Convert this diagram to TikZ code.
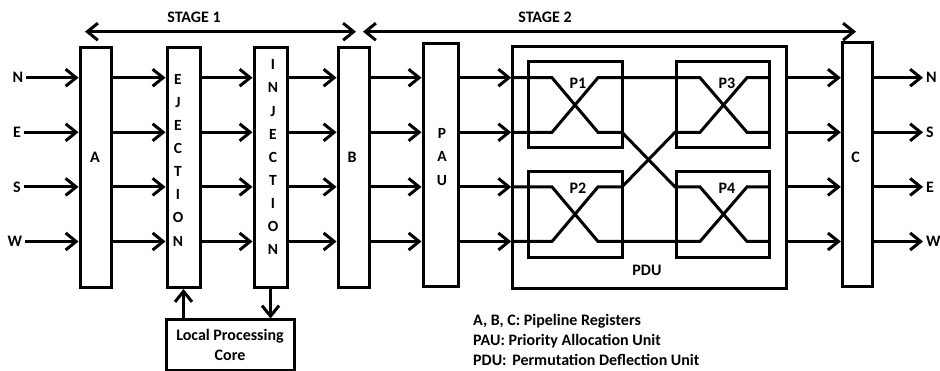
\documentclass[tikz,border=0pt]{standalone}
\usepackage{fontspec}
\setmainfont{Carlito}
\usetikzlibrary{arrows.meta}
\begin{document}
\begin{tikzpicture}[x=1pt,y=-1pt,
  every node/.style={font=\bfseries\fontsize{16}{19}\selectfont, inner sep=0pt},
  box/.style={draw, line width=3pt, inner sep=0pt},
  stack/.style={align=center, font=\bfseries\fontsize{15.5}{23.1}\selectfont},
  wire/.style={line width=3pt},
  arr/.style={line width=3pt, -{Straight Barb[length=10.5pt,width=17pt]}},
  darr/.style={line width=3pt, {Straight Barb[length=10.5pt,width=17pt]}-{Straight Barb[length=10.5pt,width=17pt]}},
]
\useasboundingbox (0,0) rectangle (940,371);

% row coordinates
\coordinate (rN) at (0,77.7);
\coordinate (rE) at (0,132.3);
\coordinate (rS) at (0,186.9);
\coordinate (rW) at (0,241.5);

% boxes
\node[box, minimum width=31pt, minimum height=239.5pt] (A) at (95.5,167.75) {};
\node[box, minimum width=33pt, minimum height=239.5pt] (EJ) at (183.5,167.75) {};
\node[box, minimum width=33pt, minimum height=239.5pt] (IN) at (270.5,167.75) {};
\node[box, minimum width=31pt, minimum height=239.5pt] (B) at (353.5,167.75) {};
\node[box, minimum width=35pt, minimum height=243.5pt] (PAU) at (440.5,165) {};
\node[box, minimum width=30pt, minimum height=244pt] (C) at (857.3,164.5) {};
\node[box, minimum width=273.3pt, minimum height=242pt] (PDU) at (649.4,167.2) {};
\node[box, minimum width=94pt, minimum height=86pt] (P1) at (575,105) {};
\node[box, minimum width=93pt, minimum height=86pt] (P3) at (722.5,105) {};
\node[box, minimum width=94pt, minimum height=86pt] (P2) at (575,215) {};
\node[box, minimum width=93pt, minimum height=86pt] (P4) at (722.5,215) {};
\node[box, minimum width=128pt, minimum height=50pt, align=center,
      font=\bfseries\fontsize{16}{20}\selectfont] (core) at (230,345) {Local Processing\\Core};

% box labels
\node (Al) at (95,157) {A};
\node (Bl) at (352,157) {B};
\node (Cl) at (855.5,157) {C};
\node[stack] (EJl) at (178,160.2) {E\\J\\E\\C\\T\\I\\O\\N};
\node[stack] (INl) at (273,157.2) {I\\N\\J\\E\\C\\T\\I\\O\\N};
\node[stack, font=\bfseries\fontsize{15.5}{23.5}\selectfont] (PAUl) at (442,157) {P\\A\\U};
\node (P1l) at (578,83) {P1};
\node (P3l) at (727,83) {P3};
\node (P2l) at (578,188) {P2};
\node (P4l) at (727,188) {P4};
\node (PDUl) at (647,270) {PDU};

% stage arrows
\coordinate (s1l) at (85,31.7);
\coordinate (s1r) at (356,31.7);
\coordinate (s2l) at (363,31.7);
\coordinate (s2r) at (856,31.7);
\draw[darr] (s1l) -- (s1r);
\draw[darr] (s2l) -- (s2r);
\node (st1) at (194,17) {STAGE 1};
\node (st2) at (545,17) {STAGE 2};

% input labels
\node (iN) at (18,77.7) {N};
\node (iE) at (17,132.3) {E};
\node (iS) at (17,186.9) {S};
\node (iW) at (15,241.5) {W};
\foreach \l in {iN,iE,iS,iW}
  \draw[arr] ([xshift=3pt]\l.east) -- (A.west |- \l);

% output labels
\node[anchor=west] (oN) at (926,77.7) {N};
\node[anchor=west] (oS) at (926,132.3) {S};
\node[anchor=west] (oE) at (926,186.9) {E};
\node[anchor=west] (oW) at (926,241.5) {W};
\foreach \l in {oN,oS,oE,oW}
  \draw[arr] (C.east |- \l) -- ([xshift=-3pt]\l.west);

% pipeline arrows
\foreach \r in {rN,rE,rS,rW}{
  \draw[arr] (A.east |- \r) -- (EJ.west |- \r);
  \draw[arr] (EJ.east |- \r) -- (IN.west |- \r);
  \draw[arr] (IN.east |- \r) -- (B.west |- \r);
  \draw[arr] (B.east |- \r) -- (PAU.west |- \r);
  \draw[arr] (PAU.east |- \r) -- (PDU.west |- \r);
  \draw[arr] (PDU.east |- \r) -- (C.west |- \r);
}

% core arrows
\draw[arr] (core.north -| EJ.south) -- (EJ.south);
\draw[arr] (IN.south) -- (core.north -| IN.south);

% PDU internal wires
\draw[wire] (PDU.west |- rN) -- (552,77.7) -- (598,132.3) -- (622,132.3) -- (675,186.9) -- (700,186.9) -- (747,241.5) -- (P4.east |- rW);
\draw[wire] (PDU.west |- rE) -- (552,132.3) -- (598,77.7) -- (700,77.7) -- (747,132.3) -- (P3.east |- rE);
\draw[wire] (PDU.west |- rS) -- (552,186.9) -- (598,241.5) -- (700,241.5) -- (747,186.9) -- (P4.east |- rS);
\draw[wire] (PDU.west |- rW) -- (552,241.5) -- (598,186.9) -- (622,186.9) -- (675,132.3) -- (700,132.3) -- (747,77.7) -- (P3.east |- rN);

% legend
\node[anchor=base west] (lg1) at (473,326) {A, B, C: Pipeline Registers};
\node[anchor=base west] (lg2) at (473,346) {PAU: Priority Allocation Unit};
\node[anchor=base west] (lg3) at (473,366) {PDU:\hspace{0.35em}Permutation Deflection Unit};
\end{tikzpicture}
\end{document}
